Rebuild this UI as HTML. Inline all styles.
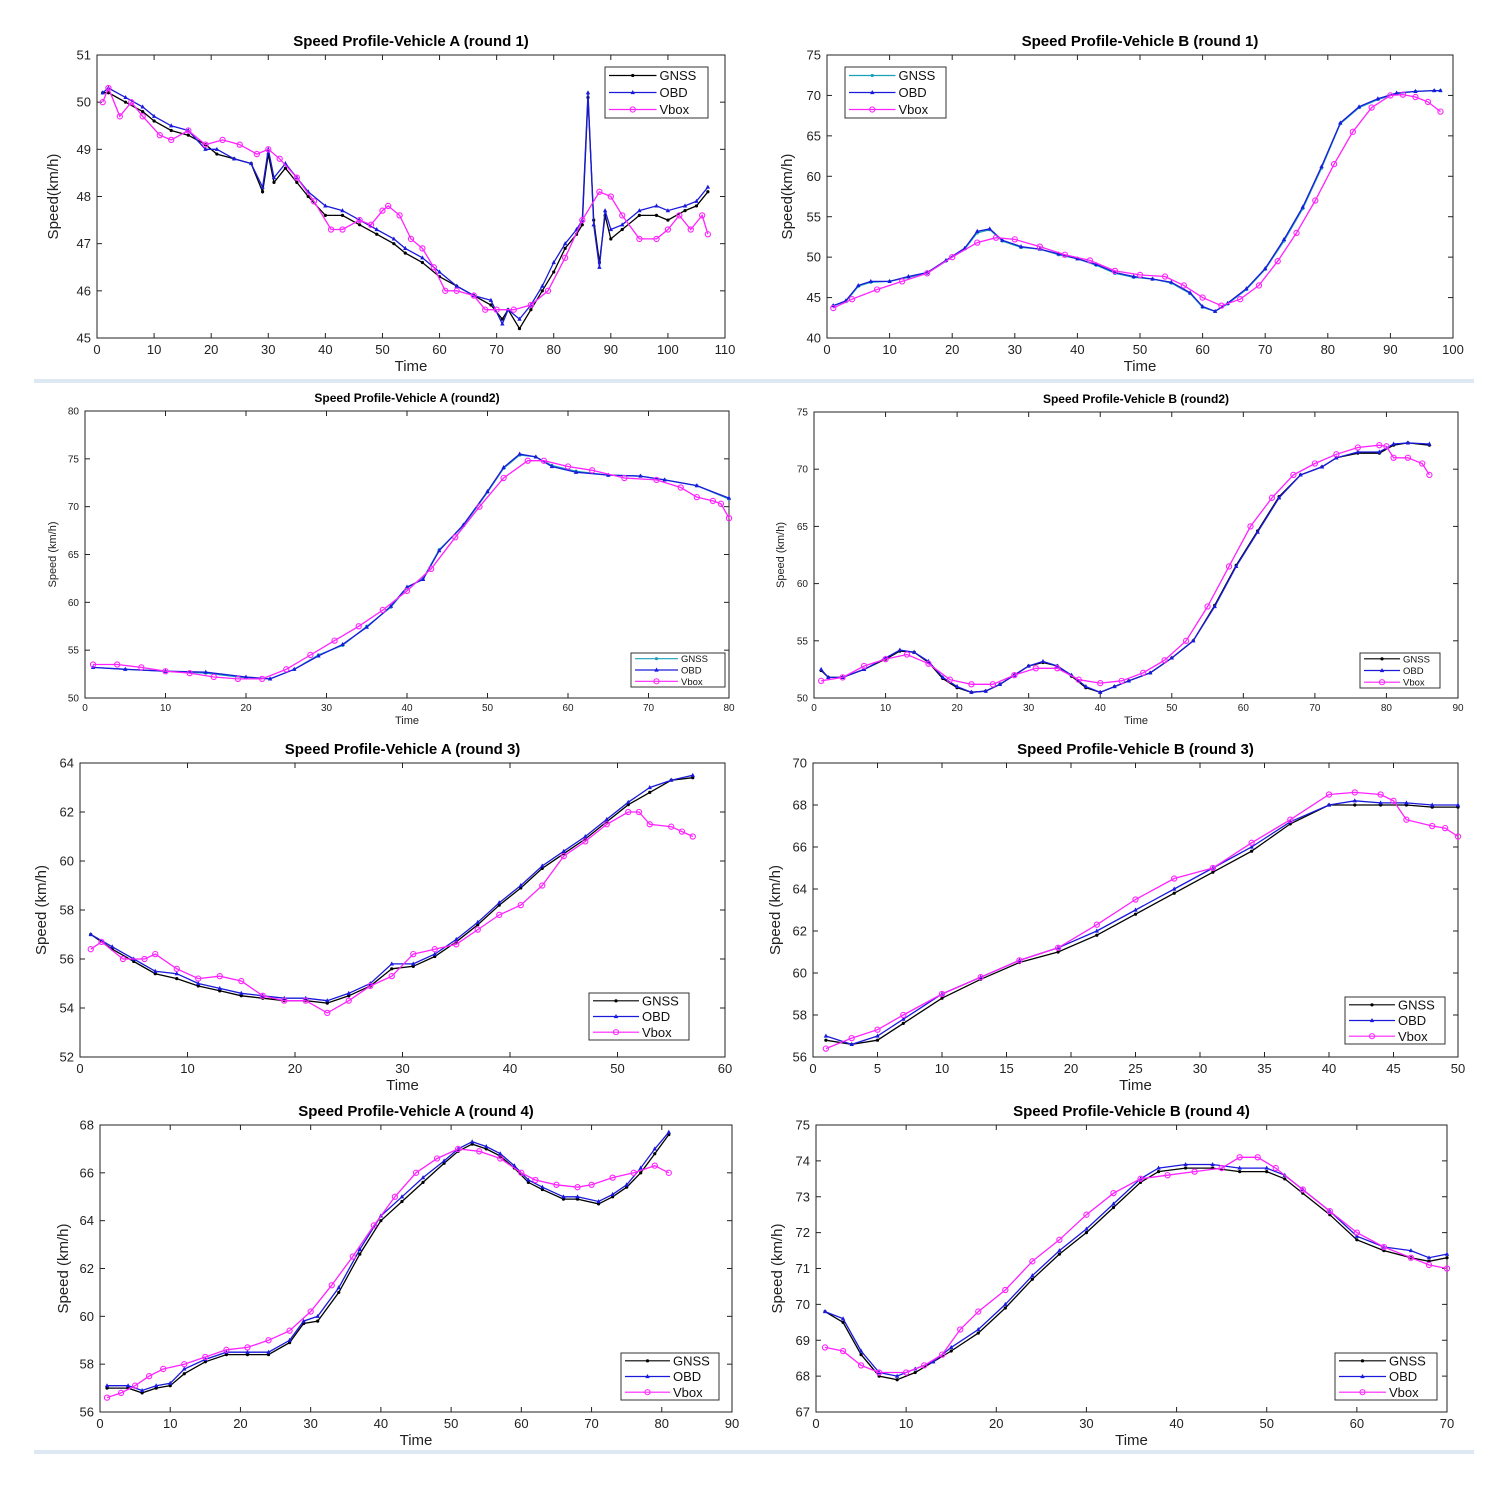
<!DOCTYPE html>
<html><head><meta charset="utf-8">
<style>
html,body{margin:0;padding:0;background:#fff;}
svg{display:block;font-family:"Liberation Sans",sans-serif;}
</style></head>
<body>
<svg id="fig" width="1509" height="1496" viewBox="0 0 1509 1496">
<rect x="0" y="0" width="1509" height="1496" fill="#fff"/>
<line x1="34" y1="381" x2="1474" y2="381" stroke="#dde8f3" stroke-width="4"/>
<line x1="34" y1="1452" x2="1474" y2="1452" stroke="#dde8f3" stroke-width="4"/>
</svg>
<script>
// ---- Panel A1 ----
const a1X = [1,2,5,8,10,13,16,19,21,24,27,29,30,31,33,35,37,40,43,46,49,52,54,57,60,63,66,69,71,72,74,76,78,80,82,84,85,86,87,88,89,90,92,95,98,100,103,105,107];
const a1Gnss = [50.2,50.2,50.0,49.8,49.6,49.4,49.3,49.1,48.9,48.8,48.7,48.1,48.9,48.3,48.6,48.3,48.0,47.6,47.6,47.4,47.2,47.0,46.8,46.6,46.3,46.1,45.9,45.7,45.4,45.6,45.2,45.6,46.0,46.4,46.9,47.2,47.4,50.1,47.5,46.6,47.6,47.1,47.3,47.6,47.6,47.5,47.7,47.8,48.1];
const a1Obd  = [50.2,50.3,50.1,49.9,49.7,49.5,49.4,49.0,49.0,48.8,48.7,48.2,49.0,48.4,48.7,48.4,48.1,47.8,47.7,47.5,47.3,47.1,46.9,46.7,46.4,46.1,45.9,45.8,45.3,45.6,45.4,45.7,46.1,46.6,47.0,47.3,47.5,50.2,47.4,46.5,47.7,47.3,47.4,47.7,47.8,47.7,47.8,47.9,48.2];
const a1VX = [1,2,4,6,8,11,13,16,19,22,25,28,30,32,35,38,41,43,46,48,50,51,53,55,57,59,61,63,66,68,70,73,76,79,82,85,88,90,92,95,98,100,102,104,106,107];
const a1Vbox = [50.0,50.3,49.7,50.0,49.7,49.3,49.2,49.4,49.1,49.2,49.1,48.9,49.0,48.8,48.4,47.9,47.3,47.3,47.5,47.4,47.7,47.8,47.6,47.1,46.9,46.5,46.0,46.0,45.9,45.6,45.6,45.6,45.7,46.0,46.7,47.5,48.1,48.0,47.6,47.1,47.1,47.3,47.6,47.3,47.6,47.2];
// ---- Panel B1 ----
const b1X = [1,3,5,7,10,13,16,19,22,24,26,28,31,34,37,40,43,46,49,52,55,58,60,62,64,67,70,73,76,79,82,85,88,91,94,97,98];
const b1Gnss = [44,44.5,46.4,46.9,47,47.5,48,49.5,51,53,53.4,52,51.2,51,50.3,49.8,49,48,47.5,47.3,46.8,45.5,43.8,43.3,44.2,46,48.5,52,56,61,66.5,68.5,69.5,70.2,70.5,70.6,70.6];
const b1Obd  = [44,44.6,46.5,47,47,47.6,48.1,49.6,51.1,53.2,53.5,52.1,51.3,51,50.4,49.8,49.1,48.1,47.6,47.3,46.9,45.6,43.9,43.3,44.3,46.1,48.6,52.2,56.2,61.2,66.6,68.6,69.6,70.3,70.5,70.6,70.6];
const b1VX = [1,4,8,12,16,20,24,27,30,34,38,42,46,50,54,57,60,63,66,69,72,75,78,81,84,87,90,92,94,96,98];
const b1Vbox = [43.7,44.8,46,47,48,50,51.8,52.4,52.2,51.3,50.3,49.6,48.3,47.8,47.6,46.5,45,44,44.8,46.5,49.5,53,57,61.5,65.5,68.5,70,70.1,69.8,69.2,68];
// ---- Panel A2 ----
const a2X = [1,5,10,15,20,23,26,29,32,35,38,40,42,44,47,50,52,54,56,58,61,65,69,72,76,80];
const a2Gnss = [53.2,53,52.8,52.6,52.1,52.0,53,54.5,55.5,57.5,59.5,61.5,62.5,65.5,68,71.5,74,75.4,75.2,74.3,73.7,73.3,73.2,72.8,72.2,70.8];
const a2Obd  = [53.2,53,52.8,52.7,52.2,52.0,53,54.4,55.6,57.4,59.6,61.6,62.4,65.4,68.1,71.6,74.1,75.5,75.2,74.2,73.6,73.3,73.2,72.8,72.2,70.9];
const a2VX = [1,4,7,10,13,16,19,22,25,28,31,34,37,40,43,46,49,52,55,57,60,63,67,71,74,76,78,79,80];
const a2Vbox = [53.5,53.5,53.2,52.8,52.6,52.2,52.0,52.0,53,54.5,56,57.5,59.2,61.2,63.5,66.8,70,73,74.8,74.8,74.2,73.8,73.0,72.8,72.0,71.0,70.6,70.3,68.8];
// ---- Panel B2 ----
const b2X = [1,2,4,7,10,12,14,16,18,20,22,24,26,28,30,32,34,36,38,40,42,44,47,50,53,56,59,62,65,68,71,73,76,79,81,83,86];
const b2Gnss = [52.4,51.8,51.8,52.5,53.4,54.1,54,53.1,51.7,50.9,50.5,50.6,51.2,52,52.8,53.1,52.8,51.9,50.9,50.5,51,51.5,52.2,53.5,55,58.1,61.6,64.6,67.6,69.5,70.2,71,71.4,71.4,72.1,72.3,72.1];
const b2Obd  = [52.5,51.8,51.8,52.5,53.5,54.2,54,53.2,51.8,51,50.5,50.6,51.2,52,52.8,53.2,52.8,52,51,50.5,51,51.5,52.2,53.5,55,58,61.5,64.5,67.5,69.5,70.2,71,71.5,71.5,72.2,72.3,72.2];
const b2VX = [1,4,7,10,13,16,19,22,25,28,31,34,37,40,43,46,49,52,55,58,61,64,67,70,73,76,79,80,81,83,85,86];
const b2Vbox = [51.5,51.8,52.8,53.4,53.8,53,51.6,51.2,51.2,52,52.6,52.6,51.6,51.3,51.5,52.2,53.3,55,58,61.5,65,67.5,69.5,70.5,71.3,71.9,72.1,72.0,71.0,71.0,70.5,69.5];
// ---- Panel A3 ----
const a3X = [1,3,5,7,9,11,13,15,17,19,21,23,25,27,29,31,33,35,37,39,41,43,45,47,49,51,53,55,57];
const a3Gnss = [57,56.4,55.9,55.4,55.2,54.9,54.7,54.5,54.4,54.3,54.3,54.2,54.5,54.9,55.6,55.7,56.1,56.7,57.4,58.2,58.9,59.7,60.3,60.9,61.6,62.3,62.8,63.3,63.4];
const a3Obd  = [57,56.5,56,55.5,55.4,55.0,54.8,54.6,54.5,54.4,54.4,54.3,54.6,55,55.8,55.8,56.2,56.8,57.5,58.3,59,59.8,60.4,61,61.7,62.4,63,63.3,63.5];
const a3VX = [1,2,4,6,7,9,11,13,15,17,19,21,23,25,27,29,31,33,35,37,39,41,43,45,47,49,51,52,53,55,56,57];
const a3Vbox = [56.4,56.7,56.0,56.0,56.2,55.6,55.2,55.3,55.1,54.5,54.3,54.3,53.8,54.3,54.9,55.3,56.2,56.4,56.6,57.2,57.8,58.2,59,60.2,60.8,61.5,62.0,62.0,61.5,61.4,61.2,61.0];
// ---- Panel B3 ----
const b3X = [1,3,5,7,10,13,16,19,22,25,28,31,34,37,40,42,44,46,48,50];
const b3Gnss = [56.8,56.6,56.8,57.6,58.8,59.7,60.5,61.0,61.8,62.8,63.8,64.8,65.8,67.1,68,68.0,68.0,68.0,67.9,67.9];
const b3Obd  = [57,56.6,57,57.8,59,59.8,60.6,61.2,62,63,64,65,66,67.2,68,68.2,68.1,68.1,68,68];
const b3VX = [1,3,5,7,10,13,16,19,22,25,28,31,34,37,40,42,44,45,46,48,49,50];
const b3Vbox = [56.4,56.9,57.3,58,59,59.8,60.6,61.2,62.3,63.5,64.5,65,66.2,67.3,68.5,68.6,68.5,68.2,67.3,67,66.9,66.5];
// ---- Panel A4 ----
const a4X = [1,4,6,8,10,12,15,18,21,24,27,29,31,34,37,40,43,46,49,51,53,55,57,59,61,63,66,68,71,73,75,77,79,81];
const a4Gnss = [57.0,57.0,56.8,57.0,57.1,57.6,58.1,58.4,58.4,58.4,58.9,59.7,59.8,61.0,62.6,64.0,64.8,65.6,66.4,66.9,67.2,67.0,66.7,66.2,65.6,65.3,64.9,64.9,64.7,65.0,65.4,66.0,66.8,67.6];
const a4Obd  = [57.1,57.1,56.9,57.1,57.2,57.8,58.2,58.5,58.5,58.5,59,59.8,60.0,61.2,62.8,64.2,65,65.8,66.5,67,67.3,67.1,66.8,66.3,65.7,65.4,65.0,65.0,64.8,65.1,65.5,66.2,67,67.7];
const a4VX = [1,3,5,7,9,12,15,18,21,24,27,30,33,36,39,42,45,48,51,54,57,60,62,65,68,70,73,76,79,81];
const a4Vbox = [56.6,56.8,57.1,57.5,57.8,58.0,58.3,58.6,58.7,59.0,59.4,60.2,61.3,62.5,63.8,65,66,66.6,67.0,66.9,66.6,66.0,65.7,65.5,65.4,65.5,65.8,66,66.3,66.0];
// ---- Panel B4 ----
const b4X = [1,3,5,7,9,11,13,15,18,21,24,27,30,33,36,38,41,44,47,50,52,54,57,60,63,66,68,70];
const b4Gnss = [69.8,69.5,68.6,68.0,67.9,68.1,68.4,68.7,69.2,69.9,70.7,71.4,72.0,72.7,73.4,73.7,73.8,73.8,73.7,73.7,73.5,73.1,72.5,71.8,71.5,71.3,71.2,71.3];
const b4Obd  = [69.8,69.6,68.7,68.1,68.0,68.2,68.4,68.8,69.3,70,70.8,71.5,72.1,72.8,73.5,73.8,73.9,73.9,73.8,73.8,73.6,73.2,72.6,71.9,71.6,71.5,71.3,71.4];
const b4VX = [1,3,5,7,10,12,14,16,18,21,24,27,30,33,36,39,42,45,47,49,51,54,57,60,63,66,68,70];
const b4Vbox = [68.8,68.7,68.3,68.1,68.1,68.3,68.6,69.3,69.8,70.4,71.2,71.8,72.5,73.1,73.5,73.6,73.7,73.8,74.1,74.1,73.8,73.2,72.6,72.0,71.6,71.3,71.1,71.0];

const NS='http://www.w3.org/2000/svg';
const svg=document.getElementById('fig');
function mk(tag,attrs,parent){const e=document.createElementNS(NS,tag);for(const k in attrs)e.setAttribute(k,attrs[k]);(parent||svg).appendChild(e);return e;}

const panels=[
 {id:'a1',title:'Speed Profile-Vehicle A (round 1)',x0:97,x1:725,y0:55,y1:338,xmin:0,xmax:110,xs:10,ymin:45,ymax:51,ys:1,ylab:'Speed(km/h)',small:false,gnssColor:'#000',
  gx:a1X,g:a1Gnss,o:a1Obd,vx:a1VX,v:a1Vbox,leg:[605,67,103,51],ylabX:58},
 {id:'b1',title:'Speed Profile-Vehicle B (round 1)',x0:827,x1:1453,y0:55,y1:338,xmin:0,xmax:100,xs:10,ymin:40,ymax:75,ys:5,ylab:'Speed(km/h)',small:false,gnssColor:'#1aa0b8',
  gx:b1X,g:b1Gnss,o:b1Obd,vx:b1VX,v:b1Vbox,leg:[845,67,101,51],ylabX:792},
 {id:'a2',title:'Speed Profile-Vehicle A (round2)',x0:85,x1:729,y0:411,y1:698,xmin:0,xmax:80,xs:10,ymin:50,ymax:80,ys:5,ylab:'Speed (km/h)',small:true,gnssColor:'#1aa0b8',
  gx:a2X,g:a2Gnss,o:a2Obd,vx:a2VX,v:a2Vbox,leg:[631,653,94,34],ylabX:56},
 {id:'b2',title:'Speed Profile-Vehicle B (round2)',x0:814,x1:1458,y0:412,y1:698,xmin:0,xmax:90,xs:10,ymin:50,ymax:75,ys:5,ylab:'Speed (km/h)',small:true,gnssColor:'#000',
  gx:b2X,g:b2Gnss,o:b2Obd,vx:b2VX,v:b2Vbox,leg:[1360,653,80,35],ylabX:784},
 {id:'a3',title:'Speed Profile-Vehicle A (round 3)',x0:80,x1:725,y0:763,y1:1057,xmin:0,xmax:60,xs:10,ymin:52,ymax:64,ys:2,ylab:'Speed (km/h)',small:false,gnssColor:'#000',
  gx:a3X,g:a3Gnss,o:a3Obd,vx:a3VX,v:a3Vbox,leg:[589,993,100,47],ylabX:46},
 {id:'b3',title:'Speed Profile-Vehicle B (round 3)',x0:813,x1:1458,y0:763,y1:1057,xmin:0,xmax:50,xs:5,ymin:56,ymax:70,ys:2,ylab:'Speed (km/h)',small:false,gnssColor:'#000',
  gx:b3X,g:b3Gnss,o:b3Obd,vx:b3VX,v:b3Vbox,leg:[1345,997,100,47],ylabX:780},
 {id:'a4',title:'Speed Profile-Vehicle A (round 4)',x0:100,x1:732,y0:1125,y1:1412,xmin:0,xmax:90,xs:10,ymin:56,ymax:68,ys:2,ylab:'Speed (km/h)',small:false,gnssColor:'#000',
  gx:a4X,g:a4Gnss,o:a4Obd,vx:a4VX,v:a4Vbox,leg:[621,1353,98,47],ylabX:68},
 {id:'b4',title:'Speed Profile-Vehicle B (round 4)',x0:816,x1:1447,y0:1125,y1:1412,xmin:0,xmax:70,xs:10,ymin:67,ymax:75,ys:1,ylab:'Speed (km/h)',small:false,gnssColor:'#000',
  gx:b4X,g:b4Gnss,o:b4Obd,vx:b4VX,v:b4Vbox,leg:[1335,1353,102,47],ylabX:782}
];

panels.forEach(p=>{
  const g=mk('g',{});
  
  
  const sx=v=>p.x0+(v-p.xmin)/(p.xmax-p.xmin)*(p.x1-p.x0);
  const sy=v=>p.y1-(v-p.ymin)/(p.ymax-p.ymin)*(p.y1-p.y0);
  const tf=p.small?10:13, lf=p.small?11:15, ttf=p.small?12:15;
  const box=mk('rect',{x:p.x0,y:p.y0,width:p.x1-p.x0,height:p.y1-p.y0,fill:'#fff',stroke:'#222','stroke-width':1},g);
  
  
  const t=mk('text',{x:(p.x0+p.x1)/2,y:p.y0-9,'text-anchor':'middle','font-size':ttf,'font-weight':'bold',fill:'#000'},g);
  t.textContent=p.title;
  
  
  for(let v=p.xmin;v<=p.xmax+1e-9;v+=p.xs){
    const x=sx(v);
    mk('line',{x1:x,y1:p.y1,x2:x,y2:p.y1-5,stroke:'#222'},g);
    mk('line',{x1:x,y1:p.y0,x2:x,y2:p.y0+5,stroke:'#222'},g);
    const tx=mk('text',{x:x,y:p.y1+tf+3,'text-anchor':'middle','font-size':tf,fill:'#222'},g);
    tx.textContent=v;
    
    
  }
  for(let v=p.ymin;v<=p.ymax+1e-9;v+=p.ys){
    const y=sy(v);
    mk('line',{x1:p.x0,y1:y,x2:p.x0+5,y2:y,stroke:'#222'},g);
    mk('line',{x1:p.x1,y1:y,x2:p.x1-5,y2:y,stroke:'#222'},g);
    const ty=mk('text',{x:p.x0-6,y:y+tf*0.35,'text-anchor':'end','font-size':tf,fill:'#222'},g);
    ty.textContent=v;
    
    
  }
  const xl=mk('text',{x:(p.x0+p.x1)/2,y:p.y1+tf+lf+5,'text-anchor':'middle','font-size':lf,fill:'#222'},g);
  xl.textContent='Time';
  
  
  const yc=(p.y0+p.y1)/2;
  const yl=mk('text',{x:p.ylabX,y:yc,'text-anchor':'middle','font-size':lf,fill:'#222',transform:`rotate(-90 ${p.ylabX} ${yc})`},g);
  yl.textContent=p.ylab;
  
  

  function series(xs,ys,color,marker,name){
    const sg=mk('g',{},g);
    
    
    const pts=xs.map((x,i)=>sx(x).toFixed(1)+','+sy(ys[i]).toFixed(1)).join(' ');
    mk('polyline',{points:pts,fill:'none',stroke:color,'stroke-width':1.3},sg);
    xs.forEach((x,i)=>{
      const cx=sx(x),cy=sy(ys[i]);
      if(marker==='dot') mk('circle',{cx:cx,cy:cy,r:1.6,fill:color},sg);
      else if(marker==='tri') mk('polygon',{points:`${cx},${cy-2.5} ${cx-2.2},${cy+1.6} ${cx+2.2},${cy+1.6}`,fill:color},sg);
      else mk('circle',{cx:cx,cy:cy,r:2.6,fill:'none',stroke:color,'stroke-width':1.1},sg);
    });
  }
  series(p.gx,p.g,p.gnssColor,'dot','gnss-series');
  series(p.gx,p.o,'#1a1adc','tri','obd-series');
  series(p.vx,p.v,'#ff22ff','circ','vbox-series');

  const [lx,ly,lw,lh]=p.leg;
  const lg=mk('g',{},g);
  
  
  mk('rect',{x:lx,y:ly,width:lw,height:lh,fill:'#fff',stroke:'#333','stroke-width':1},lg);
  const names=['GNSS','OBD','Vbox'], cols=[p.gnssColor,'#1a1adc','#ff22ff'], mks=['dot','tri','circ'];
  const fs=p.small?9.5:13;
  names.forEach((n,i)=>{
    const y=ly+lh*(i+0.5)/3;
    const x1=lx+4, x2=lx+lw*0.5;
    mk('line',{x1:x1,y1:y,x2:x2,y2:y,stroke:cols[i],'stroke-width':1.2},lg);
    const cx=(x1+x2)/2;
    if(mks[i]==='dot') mk('circle',{cx:cx,cy:y,r:1.6,fill:cols[i]},lg);
    else if(mks[i]==='tri') mk('polygon',{points:`${cx},${y-2.5} ${cx-2.2},${y+1.6} ${cx+2.2},${y+1.6}`,fill:cols[i]},lg);
    else mk('circle',{cx:cx,cy:y,r:2.6,fill:'none',stroke:cols[i]},lg);
    const tt=mk('text',{x:x2+3,y:y+fs*0.36,'font-size':fs,fill:'#111'},lg);
    tt.textContent=n;
    
    
  });
});
</script>
</body></html>
